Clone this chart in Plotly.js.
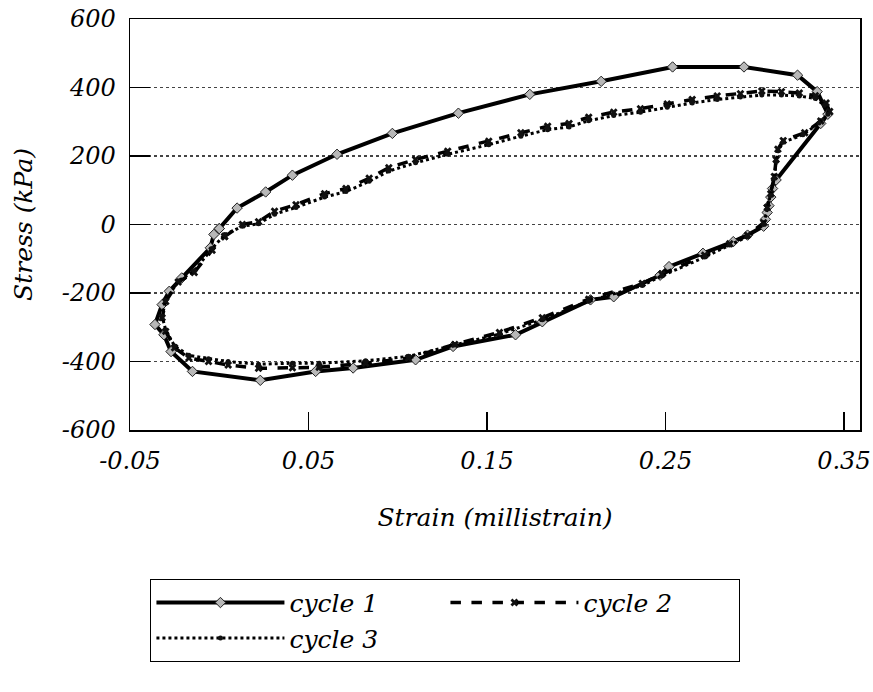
<!DOCTYPE html>
<html>
<head>
<meta charset="utf-8">
<script src="https://cdn.plot.ly/plotly-3.0.1.min.js"></script>
<style>
  html, body { margin: 0; padding: 0; background: #fff; }
  #chart { width: 873px; height: 692px; }
</style>
</head>
<body>
<div id="chart"></div>
<script>
// ---- data ----
const seriesNames = ["cycle 1", "cycle 2", "cycle 3"];

const cycle1Strain = [0.000, 0.010, 0.026, 0.041, 0.066, 0.097, 0.134, 0.174, 0.214, 0.254, 0.294, 0.324, 0.335, 0.341, 0.337,
  0.312, 0.310, 0.309, 0.308, 0.307, 0.306, 0.305, 0.296, 0.288, 0.271, 0.252, 0.247, 0.221, 0.208, 0.181, 0.166,
  0.131, 0.110, 0.075, 0.054, 0.023, -0.015, -0.027, -0.031, -0.036, -0.032, -0.028, -0.021, -0.005, -0.003, 0.000];
const cycle1Stress = [-12, 48, 95, 144, 205, 266, 325, 380, 418, 460, 460, 436, 388, 322, 295,
  130, 105, 80, 55, 35, 15, -5, -31, -50, -84, -123, -148, -211, -220, -284, -322,
  -356, -395, -419, -429, -455, -429, -371, -322, -292, -234, -195, -156, -68, -29, -12];

const cycle2Strain = [0.003, 0.013, 0.022, 0.031, 0.043, 0.059, 0.071, 0.084, 0.095, 0.110, 0.128, 0.151, 0.169, 0.184, 0.196,
  0.207, 0.221, 0.236, 0.251, 0.265, 0.279, 0.292, 0.304, 0.315, 0.325, 0.334, 0.340, 0.342, 0.337, 0.328, 0.316,
  0.313, 0.312, 0.311, 0.309, 0.307, 0.305, 0.296, 0.286, 0.272, 0.248, 0.237, 0.207, 0.181, 0.157, 0.132, 0.106,
  0.082, 0.056, 0.041, 0.022, 0.005, -0.006, -0.017, -0.025, -0.030, -0.032, -0.030, -0.023, -0.014, -0.004, 0.003];
const cycle2Stress = [-35, 0, 8, 39, 58, 90, 105, 135, 166, 190, 214, 243, 268, 287, 295,
  313, 328, 338, 352, 365, 375, 382, 390, 388, 384, 376, 355, 330, 302, 268, 245,
  220, 190, 140, 90, 50, 5, -31, -56, -90, -145, -172, -218, -272, -315, -350, -390,
  -405, -417, -418, -420, -410, -400, -390, -360, -312, -272, -225, -168, -140, -75, -35];

const cycle3Strain = [0.003, 0.013, 0.022, 0.031, 0.043, 0.059, 0.071, 0.084, 0.095, 0.110, 0.128, 0.151, 0.169, 0.184, 0.196,
  0.207, 0.221, 0.236, 0.251, 0.265, 0.279, 0.292, 0.304, 0.315, 0.325, 0.334, 0.339, 0.341, 0.336, 0.327, 0.316,
  0.313, 0.312, 0.311, 0.309, 0.307, 0.305, 0.296, 0.286, 0.272, 0.248, 0.237, 0.207, 0.181, 0.157, 0.132, 0.106,
  0.082, 0.056, 0.041, 0.022, 0.005, -0.006, -0.017, -0.025, -0.030, -0.032, -0.030, -0.023, -0.014, -0.004, 0.003];
const cycle3Stress = [-30, -5, 2, 30, 50, 80, 96, 126, 156, 180, 205, 233, 258, 277, 285,
  303, 318, 328, 342, 355, 365, 372, 378, 378, 375, 368, 348, 322, 296, 262, 240,
  215, 185, 135, 85, 45, 0, -36, -60, -95, -150, -178, -224, -278, -320, -352, -385,
  -398, -405, -405, -408, -400, -392, -382, -355, -308, -268, -222, -165, -135, -70, -30];

const xTickVals = [-0.05, 0.05, 0.15, 0.25, 0.35];
const xTickText = ["-0.05", "0.05", "0.15", "0.25", "0.35"];
const yTickVals = [-600, -400, -200, 0, 200, 400, 600];
const yTickText = ["-600", "-400", "-200", "0", "200", "400", "600"];

// ---- traces ----
const serif = "DejaVu Serif";
const traces = [
  {
    x: cycle1Strain, y: cycle1Stress, name: seriesNames[0],
    type: "scatter", mode: "lines+markers",
    line: { color: "#000", width: 4 },
    marker: { symbol: "diamond", size: 8, color: "#b8b8b8", line: { color: "#222", width: 1 } }
  },
  {
    x: cycle2Strain, y: cycle2Stress, name: seriesNames[1],
    type: "scatter", mode: "lines+markers",
    line: { color: "#000", width: 3.5, dash: "dash" },
    marker: { symbol: "x", size: 7, color: "#111" }
  },
  {
    x: cycle3Strain, y: cycle3Stress, name: seriesNames[2],
    type: "scatter", mode: "lines+markers",
    line: { color: "#000", width: 3, dash: "dot" },
    marker: { symbol: "circle", size: 5, color: "#111" }
  }
];

const layout = {
  width: 873, height: 692,
  margin: { l: 130, r: 13, t: 19, b: 262, autoexpand: false },
  paper_bgcolor: "#fff", plot_bgcolor: "#fff",
  font: { family: serif, color: "#000" },
  showlegend: true,
  xaxis: {
    range: [-0.05, 0.359],
    tickvals: xTickVals, ticktext: xTickText,
    ticks: "inside", ticklen: 18, tickwidth: 1.2, tickcolor: "#000",
    showline: true, linecolor: "#000", linewidth: 1.5, mirror: true,
    showgrid: false, zeroline: false,
    tickfont: { family: serif, size: 24, style: "italic" },
    ticklabelstandoff: 9,
    title: { text: "Strain (millistrain)", font: { family: serif, size: 25, style: "italic" }, standoff: 34 }
  },
  yaxis: {
    range: [-600, 600],
    tickvals: yTickVals, ticktext: yTickText,
    ticks: "inside", ticklen: 20, tickwidth: 1.2, tickcolor: "#000",
    showline: true, linecolor: "#000", linewidth: 1.5, mirror: true,
    showgrid: true, gridcolor: "#444", gridwidth: 1.2, griddash: "dot",
    zeroline: false,
    tickfont: { family: serif, size: 24, style: "italic" },
    ticklabelstandoff: 8,
    title: { text: "Stress (kPa)", font: { family: serif, size: 25, style: "italic" }, standoff: 22 }
  },
  legend: {
    orientation: "h",
    x: 0.028, xanchor: "left",
    y: -0.362, yanchor: "top",
    bordercolor: "#000", borderwidth: 1, bgcolor: "#fff",
    font: { family: serif, size: 25, style: "italic" },
    itemwidth: 128,
    entrywidth: 151
  }
};

Plotly.newPlot("chart", traces, layout, { displayModeBar: false, staticPlot: true });
</script>
</body>
</html>
